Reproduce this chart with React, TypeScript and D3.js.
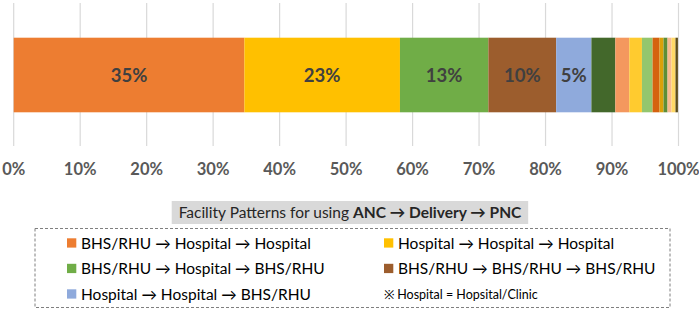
import React from "react";
import * as d3 from "d3";

const categories = [
  "BHS/RHU → Hospital → Hospital",
  "Hospital → Hospital → Hospital",
  "BHS/RHU → Hospital → BHS/RHU",
  "BHS/RHU → BHS/RHU → BHS/RHU",
  "Hospital → Hospital → BHS/RHU",
  "Pattern 6",
  "Pattern 7",
  "Pattern 8",
  "Pattern 9",
  "Pattern 10",
  "Pattern 11",
  "Pattern 12",
  "Pattern 13",
  "Pattern 14",
  "Pattern 15",
];
const values = [34.7, 23.4, 13.3, 10.2, 5.3, 3.6, 2.1, 1.9, 1.6, 1.05, 0.6, 0.6, 0.6, 0.6, 0.36];
const colors = [
  "#ED7D31", "#FFC000", "#70AD47", "#9C5D2D", "#8FAADC", "#43682B", "#F4985E",
  "#FFCB2F", "#94C66E", "#D5620F", "#D9A10A", "#5C8E37", "#F7B98F", "#FFD966", "#5A4B1A",
];
const ticks = [0, 10, 20, 30, 40, 50, 60, 70, 80, 90, 100];
const legendCount = 5;
const labelMin = 5;
const titleNormal = "Facility Patterns for using ";
const titleBold = "ANC → Delivery → PNC";
const note = "※ Hospital = Hopsital/Clinic";

const FONT = "Lato, 'Open Sans', sans-serif";

export default function App() {
  const x = d3.scaleLinear().domain([0, 100]).range([13.7, 678.5]);
  const y = d3.scaleBand().domain(["bar"]).range([37.7, 112.3]).padding(0);
  const starts = d3.cumsum([0, ...values.slice(0, -1)]);
  const segs = values.map((v, i) => ({ v, s: starts[i], c: colors[i], name: categories[i] }));

  const legendRows = [
    [0, 1],
    [2, 3],
    [4, -1],
  ];
  const colX = [67, 384];
  const rowY = d3.scalePoint().domain(["0", "1", "2"]).range([243, 294]);

  return (
    <svg width={699} height={311} style={{ position: "absolute", left: 0, top: 0, background: "#fff" }}>
      {ticks.map((t) => (
        <line key={t} x1={x(t)} x2={x(t)} y1={3} y2={146} stroke="#d9d9d9" strokeWidth={1.2} />
      ))}
      {segs.map((d, i) => (
        <rect key={i} x={x(d.s)} y={y("bar")} width={x(d.s + d.v) - x(d.s)} height={y.bandwidth()} fill={d.c} />
      ))}
      {segs.filter((d) => d.v >= labelMin).map((d, i) => (
        <text key={i} x={(x(d.s) + x(d.s + d.v)) / 2} y={(y("bar")! + y.bandwidth() / 2) + 6.5}
          textAnchor="middle" fontFamily={FONT} fontWeight={700} fontSize={18.5} fill="#404040">
          {`${Math.round(d.v)}%`}
        </text>
      ))}
      {ticks.map((t) => (
        <text key={t} x={x(t)} y={175} textAnchor="middle" fontFamily={FONT} fontWeight={700} fontSize={16.5} fill="#595959">
          {`${t}%`}
        </text>
      ))}
      <rect x={171.7} y={201} width={356.5} height={23} fill="#d9d9d9" />
      <text x={350} y={218} textAnchor="middle" fontFamily={FONT} fontSize={15.5} fill="#262626">
        <tspan>{titleNormal}</tspan>
        <tspan fontWeight={700}>{titleBold}</tspan>
      </text>
      <rect x={35} y={228.5} width={635} height={79} fill="none" stroke="#7f7f7f" strokeWidth={1} strokeDasharray="3,2" />
      {legendRows.map((row, r) =>
        row.map((idx, c) =>
          idx >= 0 ? (
            <g key={`${r}-${c}`} transform={`translate(${colX[c]},${rowY(String(r))})`}>
              <rect x={0} y={-4.7} width={9.3} height={9.3} fill={colors[idx]} />
              <text x={14} y={5.5} fontFamily={FONT} fontSize={15.5} fill="#000">{categories[idx]}</text>
            </g>
          ) : (
            <text key={`${r}-${c}`} x={colX[c]} y={rowY(String(r))! + 4.5} fontFamily={FONT} fontSize={12.5} fill="#000">{note}</text>
          )
        )
      )}
    </svg>
  );
}
